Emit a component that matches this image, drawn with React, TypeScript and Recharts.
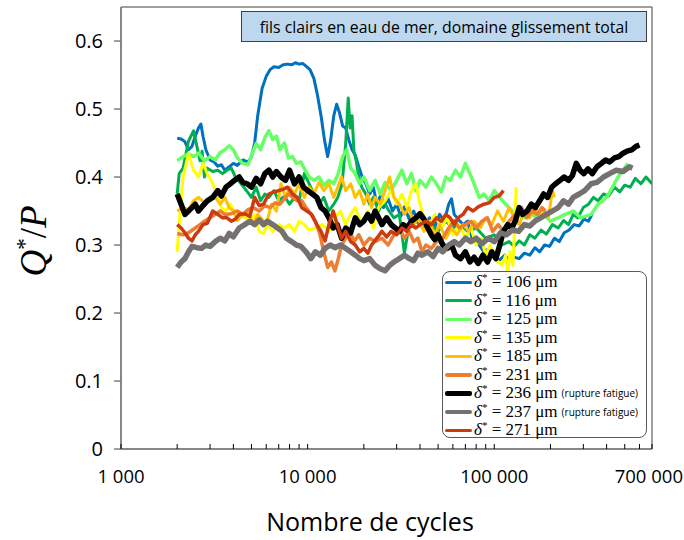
import { LineChart, Line, XAxis, YAxis, ReferenceArea, Legend } from 'recharts';

// cycles / Q*/P pairs
const s106 = [
  [2000, .457], [2100, .456], [2200, .452], [2300, .44], [2400, .445], [2500, .46], [2600, .472], [2680, .478], [2750, .46], [2850, .44],
  [3000, .425], [3150, .422], [3300, .416], [3450, .418], [3600, .41], [3800, .415], [4000, .42], [4200, .417], [4500, .425], [4800, .422],
  [5000, .43], [5200, .45], [5400, .49], [5700, .53], [6000, .548], [6300, .558], [6600, .562], [7000, .561], [7400, .565], [7800, .566],
  [8200, .565], [8600, .568], [9000, .566], [9400, .567], [9800, .563], [10300, .558], [10800, .545], [11300, .52], [11800, .49], [12300, .455],
  [12800, .43], [13300, .455], [13800, .49], [14300, .507], [14800, .495], [15400, .475], [16000, .472], [16600, .455], [17300, .44], [18000, .432],
  [18800, .415], [19600, .4], [20500, .39], [21500, .375], [22500, .385], [23500, .36], [24500, .372], [25500, .355], [27000, .368], [28500, .35],
  [30000, .36], [31500, .342], [33000, .356], [35000, .338], [37000, .35], [39000, .334], [41000, .348], [43000, .33], [45000, .34], [48000, .326],
  [51000, .345], [54000, .335], [57000, .36], [59000, .368], [61000, .345], [64000, .338], [68000, .33], [72000, .335], [76000, .31], [82000, .302],
  [88000, .29], [94000, .295], [100000, .282], [107000, .278], [114000, .285], [121000, .277], [128000, .282], [136000, .28], [145000, .288], [155000, .285],
  [165000, .296], [175000, .29], [186000, .3], [198000, .298], [210000, .31], [223000, .305], [237000, .318], [252000, .322], [268000, .33], [285000, .328],
  [302000, .338], [320000, .335], [335000, .346],
];

const s116 = [
  [2000, .375], [2050, .405], [2150, .413], [2300, .453], [2450, .468], [2550, .445], [2650, .424], [2720, .438], [2800, .4], [2900, .413],
  [3100, .408], [3300, .41], [3500, .405], [3700, .41], [3900, .413], [4100, .4], [4400, .39], [4700, .38], [5000, .37], [5300, .385],
  [5600, .365], [5900, .375], [6200, .37], [6600, .38], [7000, .365], [7500, .372], [8000, .36], [8500, .37], [9000, .365], [9600, .405],
  [10200, .39], [10800, .375], [11500, .36], [12200, .37], [13000, .35], [13800, .36], [14500, .37], [15300, .39], [16000, .45], [16500, .516],
  [16900, .472], [17300, .49], [17700, .438], [18200, .424], [18800, .4], [19500, .385], [20500, .375], [21500, .36], [22500, .37], [24000, .35],
  [25500, .365], [27000, .352], [29000, .34], [31000, .345], [33000, .288], [35000, .33], [38000, .335], [42000, .325], [46000, .33], [50000, .32],
  [55000, .335], [60000, .325], [66000, .33], [72000, .32], [80000, .325], [90000, .31], [100000, .315], [110000, .3], [120000, .305], [128000, .298],
  [136000, .306], [145000, .3], [155000, .315], [165000, .31], [178000, .322], [190000, .316], [205000, .33], [220000, .325], [235000, .336], [250000, .33],
  [265000, .345], [280000, .34], [300000, .355], [320000, .36], [340000, .37], [360000, .365], [385000, .375], [410000, .372], [440000, .385], [470000, .378],
  [500000, .388], [535000, .385], [570000, .398], [610000, .39], [650000, .4], [700000, .39],
];

const s125 = [
  [2000, .424], [2150, .43], [2300, .434], [2450, .43], [2600, .435], [2800, .424], [3000, .43], [3200, .425], [3400, .436], [3600, .44],
  [3800, .446], [4000, .44], [4200, .428], [4500, .42], [4800, .418], [5000, .432], [5300, .449], [5600, .44], [5900, .458], [6200, .468],
  [6500, .455], [6800, .46], [7100, .44], [7500, .45], [7900, .428], [8300, .43], [8700, .42], [9200, .422], [9700, .41], [10200, .4],
  [10800, .395], [11500, .4], [12200, .388], [13000, .395], [13800, .39], [14600, .405], [15400, .43], [16200, .44], [17000, .413], [18000, .405],
  [19000, .39], [20000, .4], [21500, .38], [23000, .395], [24500, .375], [26000, .392], [28000, .38], [30000, .395], [32000, .41], [34000, .39],
  [36000, .405], [38000, .38], [40000, .395], [43000, .385], [46000, .4], [49000, .39], [52000, .378], [55000, .4], [58000, .395], [62000, .41],
  [66000, .4], [70000, .42], [74000, .405], [78000, .39], [83000, .37], [88000, .375], [94000, .365], [100000, .38], [107000, .37], [115000, .36],
  [125000, .35], [135000, .345], [145000, .34], [155000, .35], [170000, .338], [185000, .345], [200000, .335], [220000, .34], [240000, .345], [265000, .35],
  [290000, .34], [330000, .345], [360000, .36], [400000, .37], [430000, .385], [460000, .4], [490000, .41], [520000, .42],
];

const s135 = [
  [2000, .29], [2050, .33], [2150, .4], [2300, .434], [2450, .41], [2600, .4], [2750, .42], [2900, .405], [3100, .39], [3300, .37],
  [3450, .355], [3650, .35], [3850, .36], [4000, .352], [4300, .345], [4600, .34], [4900, .336], [5200, .345], [5500, .32], [5800, .317],
  [6100, .33], [6500, .32], [7000, .33], [7500, .325], [8000, .33], [8500, .32], [9000, .335], [9600, .33], [10200, .322], [11000, .325],
  [12000, .33], [13000, .32], [14000, .34], [15000, .35], [16000, .33], [17000, .345], [18000, .355], [19500, .33], [21000, .35], [22500, .325],
  [24000, .355], [26000, .365], [28000, .38], [30000, .36], [32000, .375], [34000, .355], [36000, .38], [38000, .39], [40000, .36], [42000, .34],
  [45000, .33], [48000, .345], [52000, .325], [56000, .34], [60000, .315], [65000, .33], [70000, .31], [75000, .325], [80000, .3], [85000, .31],
  [90000, .285], [95000, .3], [100000, .28], [105000, .275], [110000, .27], [115000, .285], [118000, .26], [122000, .29], [126000, .27], [129000, .34],
  [131000, .385],
];

const s185 = [
  [2000, .35], [2150, .355], [2300, .352], [2450, .365], [2600, .37], [2800, .362], [3000, .368], [3200, .37], [3400, .36], [3600, .37],
  [3800, .355], [4000, .35], [4200, .336], [4500, .345], [4800, .35], [5100, .33], [5400, .345], [5700, .338], [6000, .33], [6400, .36],
  [6800, .35], [7200, .39], [7600, .37], [8000, .385], [8500, .375], [9000, .39], [9600, .37], [10200, .385], [10800, .375], [11500, .392],
  [12200, .38], [13000, .39], [13800, .37], [14500, .385], [15200, .4], [16000, .38], [17000, .39], [18000, .37], [19000, .38], [20000, .36],
  [21000, .375], [22000, .355], [23000, .37], [24500, .36], [26000, .38], [27500, .4], [29000, .37], [31000, .36], [33000, .345], [35000, .355],
  [37000, .33], [39000, .34], [42000, .32], [45000, .335], [48000, .315], [51000, .33], [55000, .31], [59000, .325], [63000, .315], [68000, .33],
  [73000, .32], [78000, .335], [84000, .325], [90000, .34], [97000, .33], [104000, .35], [112000, .335], [120000, .355], [128000, .34], [136000, .33],
  [145000, .35], [155000, .34], [165000, .355], [175000, .345], [185000, .35], [195000, .34], [205000, .38], [210000, .37],
];

const s231 = [
  [2000, .317], [2150, .315], [2300, .318], [2500, .325], [2650, .33], [2800, .335], [3000, .34], [3200, .345], [3400, .35], [3600, .345],
  [3900, .346], [4200, .35], [4500, .345], [4800, .352], [5100, .355], [5500, .35], [5900, .358], [6300, .355], [6700, .362], [7100, .36],
  [7500, .368], [7900, .375], [8300, .37], [8800, .365], [9300, .365], [9800, .355], [10400, .346], [11000, .335], [11600, .317], [12200, .29],
  [12800, .267], [13400, .275], [14000, .262], [14600, .28], [15200, .3], [16000, .31], [16800, .32], [17800, .305], [18800, .315], [20000, .3],
  [21500, .31], [23000, .305], [25000, .31], [27000, .3], [29000, .315], [31000, .325], [33000, .31], [35000, .32], [37000, .305], [39000, .31],
  [41000, .29], [43000, .3], [46000, .295], [49000, .305], [53000, .31], [57000, .325], [61000, .336], [65000, .325], [70000, .33], [75000, .335],
  [80000, .325], [86000, .335], [92000, .34], [98000, .32], [105000, .33], [112000, .32], [120000, .335], [130000, .345], [140000, .355], [150000, .34],
  [160000, .35], [170000, .345], [180000, .355], [188000, .35],
];

const s236 = [
  [2000, .375], [2100, .36], [2200, .345], [2300, .35], [2400, .355], [2500, .36], [2600, .35], [2750, .358], [2900, .365], [3100, .37],
  [3300, .38], [3450, .372], [3650, .385], [3850, .39], [4050, .395], [4300, .4], [4500, .392], [4750, .39], [5000, .385], [5300, .398],
  [5600, .39], [5900, .405], [6200, .41], [6500, .4], [6800, .408], [7200, .4], [7600, .395], [8000, .41], [8500, .39], [9000, .4],
  [9500, .385], [10000, .38], [10600, .375], [11200, .37], [11800, .355], [12400, .35], [13000, .34], [13700, .325], [14400, .33], [15200, .31],
  [16000, .325], [17000, .318], [18000, .34], [19000, .33], [20000, .335], [21000, .345], [22000, .335], [23000, .35], [24000, .34], [25000, .33],
  [26500, .34], [28000, .33], [29500, .325], [31000, .32], [32500, .33], [34000, .325], [36000, .335], [38000, .34], [40000, .346], [42000, .338],
  [44000, .325], [46000, .315], [48000, .308], [50000, .315], [53000, .3], [56000, .295], [59000, .3], [62000, .285], [66000, .28], [70000, .29],
  [74000, .275], [78000, .282], [82000, .273], [87000, .285], [92000, .275], [97000, .29], [102000, .28], [107000, .3], [112000, .32], [118000, .33],
  [124000, .325], [130000, .336], [136000, .355], [142000, .345], [150000, .35], [158000, .36], [166000, .355], [175000, .365], [184000, .375], [193000, .37],
  [203000, .385], [213000, .39], [225000, .395], [237000, .4], [250000, .395], [262000, .402], [275000, .42], [288000, .41], [302000, .405], [318000, .412],
  [335000, .405], [355000, .415], [375000, .42], [395000, .425], [415000, .422], [440000, .428], [465000, .43], [490000, .435], [515000, .438], [545000, .44],
  [575000, .445], [600000, .447],
];

const s237 = [
  [2000, .267], [2100, .275], [2200, .28], [2300, .29], [2400, .298], [2550, .296], [2700, .295], [2850, .3], [3000, .298], [3200, .305],
  [3400, .31], [3600, .306], [3800, .317], [4000, .312], [4300, .325], [4600, .33], [4900, .335], [5200, .33], [5500, .337], [5800, .33],
  [6100, .335], [6500, .33], [6900, .325], [7300, .32], [7700, .31], [8200, .305], [8700, .3], [9200, .298], [9800, .29], [10400, .28],
  [11000, .29], [11700, .285], [12400, .295], [13200, .3], [14000, .296], [15000, .3], [16000, .295], [17000, .29], [18000, .285], [19000, .28],
  [20000, .277], [21500, .28], [23000, .27], [24500, .265], [26000, .262], [27500, .27], [29000, .275], [31000, .28], [33000, .285], [35000, .28],
  [37000, .277], [39000, .288], [41000, .285], [44000, .29], [47000, .283], [50000, .295], [53000, .29], [57000, .3], [61000, .305], [65000, .3],
  [70000, .31], [75000, .305], [80000, .31], [86000, .302], [93000, .31], [100000, .305], [108000, .318], [116000, .315], [125000, .322], [135000, .32],
  [145000, .33], [155000, .328], [165000, .335], [177000, .34], [190000, .345], [205000, .35], [220000, .355], [235000, .365], [250000, .36], [265000, .37],
  [285000, .375], [305000, .38], [330000, .39], [355000, .392], [385000, .4], [415000, .405], [450000, .41], [490000, .408], [530000, .415], [550000, .413],
];

const s271 = [
  [2000, .33], [2100, .325], [2200, .318], [2300, .31], [2400, .306], [2500, .315], [2600, .32], [2750, .33], [2900, .332], [3100, .35],
  [3300, .345], [3500, .34], [3700, .34], [3900, .335], [4100, .338], [4300, .345], [4600, .346], [4900, .342], [5200, .37], [5500, .358],
  [5800, .36], [6200, .375], [6600, .378], [7000, .38], [7400, .382], [7800, .385], [8300, .375], [8800, .37], [9300, .355], [9900, .35],
  [10500, .345], [11200, .33], [11800, .32], [12400, .306], [13000, .33], [13700, .35], [14400, .33], [15200, .31], [16000, .32], [17000, .305],
  [18000, .3], [19000, .29], [20000, .295], [21000, .288], [22000, .3], [23500, .31], [25000, .32], [26500, .312], [28000, .32], [30000, .315],
  [32000, .325], [34000, .32], [36000, .33], [38000, .325], [40000, .33], [43000, .335], [46000, .33], [49000, .34], [52000, .335], [55000, .345],
  [58000, .34], [61000, .33], [64000, .34], [68000, .345], [72000, .355], [77000, .35], [82000, .356], [88000, .36], [94000, .362], [100000, .37],
  [106000, .372], [112000, .38],
];

const xTicks = [
  1000, 2000, 3000, 4000, 5000, 6000, 7000, 8000, 9000,
  10000, 20000, 30000, 40000, 50000, 60000, 70000, 80000, 90000,
  100000, 200000, 300000, 400000, 500000, 600000, 700000,
];
const xMajor = [1000, 10000, 100000, 700000];
const xLabels = ['1 000', '10 000', '100 000', '700 000'];
const yTicks = [0, 0.1, 0.2, 0.3, 0.4, 0.5, 0.6];

const series = [
  { name: '106', color: '#0070C0', width: 3, data: s106 },
  { name: '116', color: '#00B050', width: 3, data: s116 },
  { name: '125', color: '#66FF66', width: 3.5, data: s125 },
  { name: '135', color: '#FFFF00', width: 3, data: s135 },
  { name: '185', color: '#FFC000', width: 3, data: s185 },
  { name: '231', color: '#ED7D31', width: 3.5, data: s231 },
  { name: '236', color: '#000000', width: 5.5, data: s236, note: '(rupture fatigue)' },
  { name: '237', color: '#767171', width: 5.5, data: s237, note: '(rupture fatigue)' },
  { name: '271', color: '#CC3A10', width: 3.5, data: s271 },
];

const sans = '"Open Sans", sans-serif';
const serif = '"Liberation Serif", serif';

const XTick = (props: any) => {
  const { x, y, payload } = props;
  const i = xMajor.indexOf(payload.value);
  const last = i === xMajor.length - 1;
  return (
    <g>
      <line x1={x} y1={y} x2={x} y2={y - 5} stroke="#000" strokeWidth={1} />
      {i >= 0 && (
        <text
          x={last ? x + 31 : x}
          y={y + 34}
          textAnchor={last ? 'end' : 'middle'}
          fontSize={18.5}
          fontFamily={sans}
          fill="#000"
        >
          {xLabels[i]}
        </text>
      )}
    </g>
  );
};

const YTitle = () => (
  <text
    x={46}
    y={241}
    transform="rotate(-90, 46, 241)"
    textAnchor="middle"
    fontFamily={serif}
    fontSize={37}
    fill="#000"
  >
    <tspan fontStyle="italic">Q</tspan>
    <tspan fontSize={23} dy={-14}>*</tspan>
    <tspan dy={14}>/</tspan>
    <tspan fontStyle="italic">P</tspan>
  </text>
);

const XTitle = () => (
  <text x={370} y={531} textAnchor="middle" fontFamily={sans} fontSize={25} fill="#000">
    Nombre de cycles
  </text>
);

const LegendBox = () => (
  <div
    style={{
      width: 205,
      height: 167,
      boxSizing: 'border-box',
      border: '1.5px solid #595959',
      borderRadius: 8,
      background: '#fff',
      padding: '1px 0 0 2px',
    }}
  >
    {series.map((s) => (
      <div key={s.name} style={{ display: 'flex', alignItems: 'center', height: 18.5, whiteSpace: 'nowrap' }}>
        <span style={{ display: 'inline-block', width: 27, height: Math.min(s.width, 4.5), background: s.color, borderRadius: 2 }} />
        <span style={{ fontFamily: serif, fontSize: 17, marginLeft: 2, color: '#000' }}>
          <i>δ</i>
          <span style={{ fontSize: 11, position: 'relative', top: -6 }}>*</span> = {s.name} μm
        </span>
        {s.note && <span style={{ fontFamily: sans, fontSize: 10, marginLeft: 4, color: '#000' }}>{s.note}</span>}
      </div>
    ))}
  </div>
);

export default function App() {
  return (
    <div style={{ position: 'relative', width: 684, height: 540, background: '#fff' }}>
      <style>{'body{margin:0}'}</style>
      <LineChart width={684} height={540} margin={{ top: 7, right: 32, bottom: 0, left: 0 }}>
        <XAxis
          dataKey="n"
          type="number"
          scale="log"
          domain={[1000, 700000]}
          ticks={xTicks}
          interval={0}
          allowDataOverflow
          height={91}
          tickSize={0}
          tickMargin={0}
          tickLine={false}
          tick={<XTick />}
          axisLine={{ stroke: '#7f7f7f', strokeWidth: 1.5 }}
          label={<XTitle />}
        />
        <YAxis
          type="number"
          domain={[0, 0.65]}
          ticks={yTicks}
          allowDataOverflow
          width={121}
          tickSize={7}
          tickMargin={11}
          tickFormatter={(v: number) => String(v)}
          tick={{ fill: '#000', fontSize: 20, fontFamily: sans }}
          axisLine={{ stroke: '#7f7f7f', strokeWidth: 1.5 }}
          tickLine={{ stroke: '#7f7f7f', strokeWidth: 1.5 }}
          label={<YTitle />}
        />
        <ReferenceArea x1={1000} x2={700000} y1={0} y2={0.65} fill="none" stroke="#404040" strokeWidth={1} ifOverflow="visible" />
        {series.map((s) => (
          <Line
            key={s.name}
            data={s.data.map(([n, v]) => ({ n, v }))}
            dataKey="v"
            name={s.name}
            stroke={s.color}
            strokeWidth={s.width}
            strokeLinejoin="round"
            dot={false}
            activeDot={false}
            isAnimationActive={false}
          />
        ))}
        <Legend
          layout="vertical"
          align="center"
          verticalAlign="middle"
          wrapperStyle={{ position: 'absolute', left: 442, top: 271, width: 205, height: 167 }}
          content={<LegendBox />}
        />
      </LineChart>
      <div
        style={{
          position: 'absolute',
          left: 241,
          top: 11,
          width: 406,
          height: 31,
          boxSizing: 'border-box',
          background: '#BDD7EE',
          border: '1px solid #404040',
          fontFamily: sans,
          fontSize: 15.8,
          color: '#000',
          display: 'flex',
          alignItems: 'center',
          justifyContent: 'center',
          whiteSpace: 'nowrap',
        }}
      >
        fils clairs en eau de mer, domaine glissement total
      </div>
    </div>
  );
}
